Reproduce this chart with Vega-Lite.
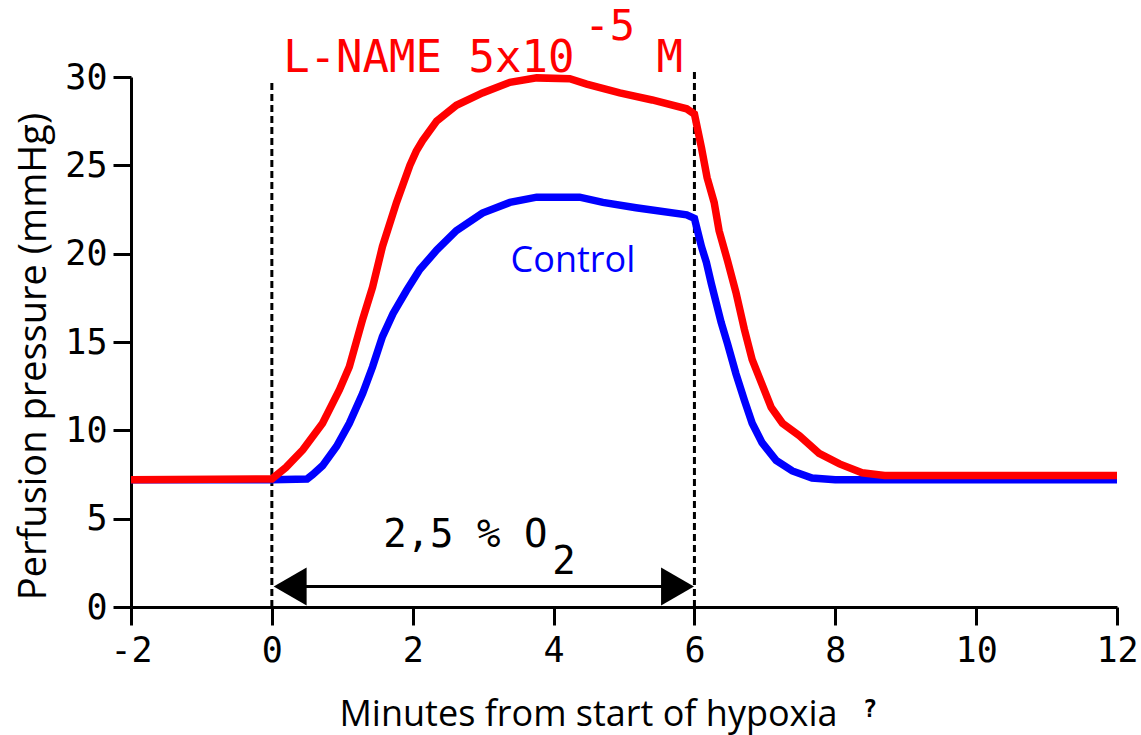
{
  "$schema": "https://vega.github.io/schema/vega-lite/v6.json",
  "width": 986,
  "height": 530,
  "autosize": {"type": "none"},
  "padding": {"left": 131, "top": 77, "right": 24, "bottom": 128},
  "background": "white",
  "data": {"values": [{}]},
  "config": {
    "view": {"stroke": null},
    "axis": {
      "grid": false,
      "domainColor": "black",
      "domainWidth": 3,
      "tickColor": "black",
      "tickWidth": 3,
      "tickSize": 18,
      "labelFont": "DejaVu Sans Mono",
      "labelFontSize": 35,
      "labelColor": "black",
      "labelFlush": false,
      "labelOverlap": false,
      "titleFont": "Open Sans",
      "titleFontSize": 36,
      "titleFontWeight": "normal",
      "titleColor": "black"
    }
  },
  "datasets": {
    "curves": [
      {"t": -2, "p": 7.2, "s": "Control"},
      {"t": 0, "p": 7.2, "s": "Control"},
      {"t": 0.5, "p": 7.25, "s": "Control"},
      {"t": 0.58, "p": 7.5, "s": "Control"},
      {"t": 0.72, "p": 8.0, "s": "Control"},
      {"t": 0.92, "p": 9.1, "s": "Control"},
      {"t": 1.1, "p": 10.4, "s": "Control"},
      {"t": 1.29, "p": 12.1, "s": "Control"},
      {"t": 1.43, "p": 13.6, "s": "Control"},
      {"t": 1.57, "p": 15.3, "s": "Control"},
      {"t": 1.72, "p": 16.6, "s": "Control"},
      {"t": 1.91, "p": 17.9, "s": "Control"},
      {"t": 2.1, "p": 19.1, "s": "Control"},
      {"t": 2.34, "p": 20.2, "s": "Control"},
      {"t": 2.62, "p": 21.3, "s": "Control"},
      {"t": 2.99, "p": 22.3, "s": "Control"},
      {"t": 3.38, "p": 22.9, "s": "Control"},
      {"t": 3.76, "p": 23.2, "s": "Control"},
      {"t": 4.37, "p": 23.2, "s": "Control"},
      {"t": 4.7, "p": 22.9, "s": "Control"},
      {"t": 5.17, "p": 22.6, "s": "Control"},
      {"t": 5.89, "p": 22.2, "s": "Control"},
      {"t": 6.0, "p": 22.0, "s": "Control"},
      {"t": 6.1, "p": 20.4, "s": "Control"},
      {"t": 6.17, "p": 19.5, "s": "Control"},
      {"t": 6.24, "p": 18.3, "s": "Control"},
      {"t": 6.31, "p": 17.2, "s": "Control"},
      {"t": 6.38, "p": 16.1, "s": "Control"},
      {"t": 6.47, "p": 14.9, "s": "Control"},
      {"t": 6.59, "p": 13.2, "s": "Control"},
      {"t": 6.71, "p": 11.7, "s": "Control"},
      {"t": 6.82, "p": 10.4, "s": "Control"},
      {"t": 6.96, "p": 9.3, "s": "Control"},
      {"t": 7.16, "p": 8.3, "s": "Control"},
      {"t": 7.39, "p": 7.7, "s": "Control"},
      {"t": 7.67, "p": 7.3, "s": "Control"},
      {"t": 8.0, "p": 7.2, "s": "Control"},
      {"t": 12, "p": 7.2, "s": "Control"},
      {"t": -2, "p": 7.2, "s": "L-NAME"},
      {"t": 0, "p": 7.25, "s": "L-NAME"},
      {"t": 0.2, "p": 7.9, "s": "L-NAME"},
      {"t": 0.44, "p": 8.9, "s": "L-NAME"},
      {"t": 0.72, "p": 10.4, "s": "L-NAME"},
      {"t": 0.96, "p": 12.3, "s": "L-NAME"},
      {"t": 1.1, "p": 13.6, "s": "L-NAME"},
      {"t": 1.29, "p": 16.3, "s": "L-NAME"},
      {"t": 1.43, "p": 18.1, "s": "L-NAME"},
      {"t": 1.57, "p": 20.4, "s": "L-NAME"},
      {"t": 1.77, "p": 22.9, "s": "L-NAME"},
      {"t": 1.96, "p": 25.0, "s": "L-NAME"},
      {"t": 2.05, "p": 25.8, "s": "L-NAME"},
      {"t": 2.14, "p": 26.4, "s": "L-NAME"},
      {"t": 2.34, "p": 27.5, "s": "L-NAME"},
      {"t": 2.62, "p": 28.4, "s": "L-NAME"},
      {"t": 2.99, "p": 29.1, "s": "L-NAME"},
      {"t": 3.38, "p": 29.7, "s": "L-NAME"},
      {"t": 3.76, "p": 29.95, "s": "L-NAME"},
      {"t": 4.23, "p": 29.9, "s": "L-NAME"},
      {"t": 4.47, "p": 29.6, "s": "L-NAME"},
      {"t": 4.94, "p": 29.1, "s": "L-NAME"},
      {"t": 5.4, "p": 28.7, "s": "L-NAME"},
      {"t": 5.89, "p": 28.2, "s": "L-NAME"},
      {"t": 6.0, "p": 27.9, "s": "L-NAME"},
      {"t": 6.1, "p": 26.0, "s": "L-NAME"},
      {"t": 6.18, "p": 24.3, "s": "L-NAME"},
      {"t": 6.28, "p": 22.9, "s": "L-NAME"},
      {"t": 6.35, "p": 21.3, "s": "L-NAME"},
      {"t": 6.47, "p": 19.6, "s": "L-NAME"},
      {"t": 6.59, "p": 17.8, "s": "L-NAME"},
      {"t": 6.71, "p": 15.7, "s": "L-NAME"},
      {"t": 6.82, "p": 14.0, "s": "L-NAME"},
      {"t": 6.95, "p": 12.7, "s": "L-NAME"},
      {"t": 7.09, "p": 11.3, "s": "L-NAME"},
      {"t": 7.25, "p": 10.4, "s": "L-NAME"},
      {"t": 7.49, "p": 9.7, "s": "L-NAME"},
      {"t": 7.77, "p": 8.7, "s": "L-NAME"},
      {"t": 8.06, "p": 8.1, "s": "L-NAME"},
      {"t": 8.38, "p": 7.6, "s": "L-NAME"},
      {"t": 8.7, "p": 7.45, "s": "L-NAME"},
      {"t": 12, "p": 7.45, "s": "L-NAME"}
    ],
    "vlines": [
      {"t": 0, "top": 29.7, "bottom": 0},
      {"t": 6, "top": 30.3, "bottom": 0}
    ],
    "arrowheads": [
      {"t": 0.26, "p": 1.16, "dir": "left"},
      {"t": 5.76, "p": 1.16, "dir": "right"}
    ]
  },
  "layer": [
    {
      "data": {"name": "vlines"},
      "mark": {"type": "rule", "color": "black", "strokeWidth": 3, "strokeDash": [7, 4]},
      "encoding": {
        "x": {
          "field": "t", "type": "quantitative",
          "scale": {"domain": [-2, 12], "nice": false, "zero": false},
          "axis": {
            "values": [-2, 0, 2, 4, 6, 8, 10, 12],
            "labelExpr": "'' + datum.value",
            "title": "Minutes from start of hypoxia",
            "labelPadding": 8,
            "titleX": 457, "titleY": 118,
            "titleAlign": "center", "titleBaseline": "alphabetic"
          }
        },
        "y": {
          "field": "bottom", "type": "quantitative",
          "scale": {"domain": [0, 30], "nice": false, "zero": true},
          "axis": {
            "values": [0, 5, 10, 15, 20, 25, 30],
            "labelExpr": "'' + datum.value",
            "title": "Perfusion pressure (mmHg)",
            "titleFontSize": 38,
            "labelPadding": 6,
            "titleX": -86, "titleY": 279,
            "titleAngle": -90,
            "titleAlign": "center", "titleBaseline": "alphabetic"
          }
        },
        "y2": {"field": "top"}
      }
    },
    {
      "data": {"name": "curves"},
      "transform": [{"filter": "datum.s === 'Control'"}],
      "mark": {"type": "line", "color": "#0000ff", "strokeWidth": 7.5, "strokeJoin": "miter"},
      "encoding": {
        "x": {"field": "t", "type": "quantitative"},
        "y": {"field": "p", "type": "quantitative"}
      }
    },
    {
      "data": {"name": "curves"},
      "transform": [{"filter": "datum.s === 'L-NAME'"}],
      "mark": {"type": "line", "color": "#ff0000", "strokeWidth": 7.5, "strokeJoin": "miter"},
      "encoding": {
        "x": {"field": "t", "type": "quantitative"},
        "y": {"field": "p", "type": "quantitative"}
      }
    },
    {
      "mark": {"type": "rule", "color": "black", "strokeWidth": 3},
      "encoding": {
        "x": {"datum": 0.2, "type": "quantitative"},
        "x2": {"datum": 5.8},
        "y": {"datum": 1.16, "type": "quantitative"}
      }
    },
    {
      "data": {"name": "arrowheads"},
      "mark": {"type": "point", "filled": true, "color": "black", "size": 1444, "opacity": 1},
      "encoding": {
        "x": {"field": "t", "type": "quantitative"},
        "y": {"field": "p", "type": "quantitative"},
        "shape": {
          "field": "dir", "type": "nominal",
          "scale": {"domain": ["left", "right"], "range": ["triangle-left", "triangle-right"]},
          "legend": null
        }
      }
    },
    {
      "mark": {"type": "text", "text": "L-NAME 5x10", "font": "DejaVu Sans Mono", "fontSize": 44, "color": "#ff0000", "align": "left", "baseline": "alphabetic"},
      "encoding": {
        "x": {"datum": 0.16, "type": "quantitative"},
        "y": {"datum": 30.29, "type": "quantitative"}
      }
    },
    {
      "mark": {"type": "text", "text": "-5", "font": "DejaVu Sans Mono", "fontSize": 42, "color": "#ff0000", "align": "left", "baseline": "alphabetic"},
      "encoding": {
        "x": {"datum": 4.44, "type": "quantitative"},
        "y": {"datum": 32.1, "type": "quantitative"}
      }
    },
    {
      "mark": {"type": "text", "text": "M", "font": "DejaVu Sans Mono", "fontSize": 44, "color": "#ff0000", "align": "left", "baseline": "alphabetic"},
      "encoding": {
        "x": {"datum": 5.46, "type": "quantitative"},
        "y": {"datum": 30.29, "type": "quantitative"}
      }
    },
    {
      "mark": {"type": "text", "text": "Control", "font": "Open Sans", "fontSize": 36, "color": "#0000ff", "align": "left", "baseline": "alphabetic"},
      "encoding": {
        "x": {"datum": 3.39, "type": "quantitative"},
        "y": {"datum": 18.98, "type": "quantitative"}
      }
    },
    {
      "mark": {"type": "text", "text": "2,5 % O", "font": "DejaVu Sans Mono", "fontSize": 39, "color": "black", "align": "left", "baseline": "alphabetic"},
      "encoding": {
        "x": {"datum": 1.58, "type": "quantitative"},
        "y": {"datum": 3.42, "type": "quantitative"}
      }
    },
    {
      "mark": {"type": "text", "text": "2", "font": "DejaVu Sans Mono", "fontSize": 39, "color": "black", "align": "left", "baseline": "alphabetic"},
      "encoding": {
        "x": {"datum": 3.98, "type": "quantitative"},
        "y": {"datum": 1.84, "type": "quantitative"}
      }
    },
    {
      "mark": {"type": "text", "text": "?", "font": "DejaVu Sans Mono", "fontSize": 24, "fontWeight": "bold", "color": "black", "align": "left", "baseline": "alphabetic"},
      "encoding": {
        "x": {"datum": 8.39, "type": "quantitative"},
        "y": {"datum": -6.2, "type": "quantitative"}
      }
    }
  ]
}
